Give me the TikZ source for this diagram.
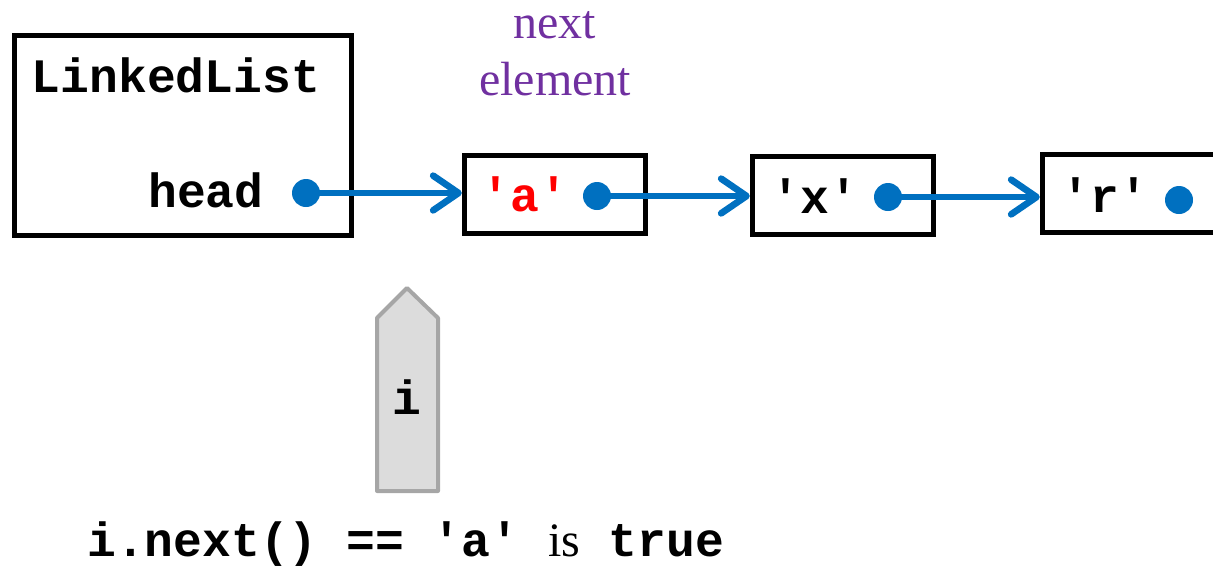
\documentclass[tikz,border=0pt]{standalone}
\usepackage{fontspec}
\setmainfont{Liberation Serif}
\setmonofont{Liberation Mono}
\usetikzlibrary{arrows.meta, positioning}

\definecolor{ptrblue}{HTML}{0070C0}
\definecolor{notepurple}{HTML}{7030A0}
\definecolor{iterfill}{HTML}{DCDCDC}
\definecolor{iterline}{HTML}{A6A6A6}

\tikzset{
	code/.style = {font=\fontsize{36}{40}\selectfont\ttfamily\bfseries, inner sep=0pt},
	cell/.style = {draw, line width=3.75pt, minimum width=136pt, minimum height=58.5pt, inner sep=0pt},
	dot/.style = {circle, fill=ptrblue, inner sep=0pt, minimum size=21pt},
	ptr/.style = {ptrblue, line width=5pt, -{Straight Barb[length=19pt, width=26pt, round]}}
}

\begin{document}
\begin{tikzpicture}[x=0.75pt, y=-0.75pt]
		\useasboundingbox (0,0) rectangle (1213,568);
		\clip (0,0) rectangle (1213,568);

		% the list object and its nodes
		\draw (183,135.5) node[draw, line width=3.75pt, minimum width=252.75pt, minimum height=150pt] (list) {}
		(176,75) node[code] (name) {LinkedList}
		(206,190) node[code] (head) {head}
		(306,193) node[dot] (hd) {}
		(555,194.5) node[cell] (ca) {}
		(843,195) node[cell] (cx) {}
		(1133,193) node[cell] (cr) {}
		(525,194) node[code, text=red] (ta) {'a'}
		(815,196) node[code] (tx) {'x'}
		(1105,195) node[code] (tr) {'r'}
		(597,196) node[dot] (da) {}
		(888,197) node[dot] (dx) {}
		(1179,200) node[dot] (dr) {};

		\draw[ptr] (hd.center) -- (hd.center -| ca.west);
		\draw[ptr] (da.center) -- (da.center -| cx.west);
		\draw[ptr] (dx.center) -- (dx.center -| cr.west);

		\node[text=notepurple, align=center, font=\fontsize{36}{43}\selectfont, inner sep=0pt] (note) at (555,54) {next\\element};

		% iterator
		\draw[fill=iterfill, draw=iterline, line width=3pt, line join=round]
			(377,491) -- (438,491) -- (438,318) -- (407,288) -- (377,318) -- cycle;
		\node[code] (it) at (407,397) {i};

		\node[code, anchor=west] (test) at (87,544) {i.next() == 'a' {\rmfamily\mdseries is} true};
	\end{tikzpicture}
\end{document}
